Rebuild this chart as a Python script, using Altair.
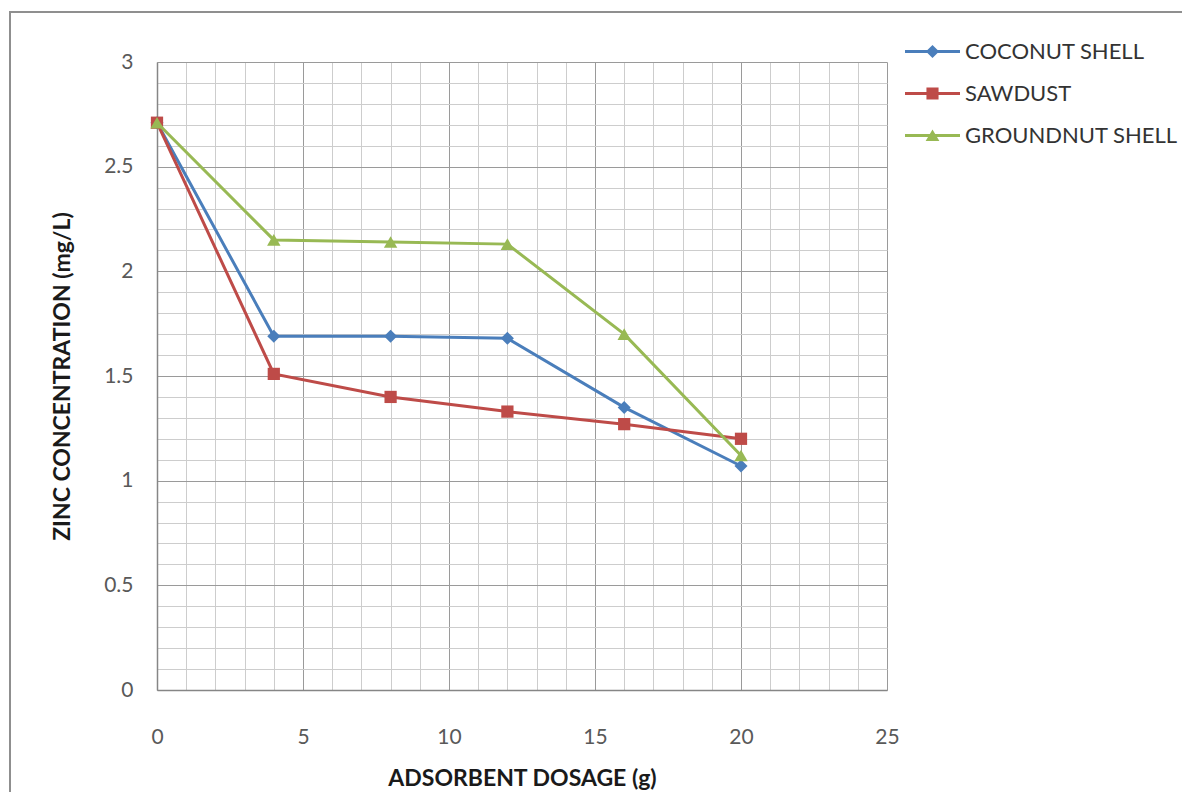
import altair as alt
import pandas as pd

# Adsorbent dosage (g) and residual zinc concentration (mg/L) for each adsorbent
dosage = [0, 4, 8, 12, 16, 20]
coconut_shell = [2.71, 1.69, 1.69, 1.68, 1.35, 1.07]
sawdust = [2.71, 1.51, 1.40, 1.33, 1.27, 1.20]
groundnut_shell = [2.71, 2.15, 2.14, 2.13, 1.70, 1.12]

series_names = ["COCONUT SHELL", "SAWDUST", "GROUNDNUT SHELL"]
series_values = [coconut_shell, sawdust, groundnut_shell]
series_colors = ["#4A7EBB", "#BE4B48", "#98B954"]
series_shapes = ["diamond", "square", "triangle-up"]
series_sizes = [170, 150, 180]

# legend glyphs: a short line with the series marker on it (unit box -1..1)
legend_glyphs = [
    "M-1,-0.055H1V0.055H-1Z M0,-0.24L0.24,0L0,0.24L-0.24,0Z",
    "M-1,-0.055H1V0.055H-1Z M-0.22,-0.22H0.22V0.22H-0.22Z",
    "M-1,-0.055H1V0.055H-1Z M0,-0.22L0.25,0.2H-0.25Z",
]

x_major = [0, 5, 10, 15, 20, 25]
x_minor = [v for v in range(0, 26) if v % 5 != 0]
y_major = [0, 0.5, 1, 1.5, 2, 2.5, 3]
y_minor = [round(i * 0.1, 1) for i in range(0, 31) if i % 5 != 0]

FONT = "Lato"
MAJOR_GRID = "#9a9a9a"
MINOR_GRID = "#cdcdcd"

rows = []
for name, vals in zip(series_names, series_values):
    for d, v in zip(dosage, vals):
        rows.append({"dosage": d, "conc": v, "series": name})
df = pd.DataFrame(rows)

x_scale = alt.Scale(domain=[0, 25], nice=False, zero=True)
y_scale = alt.Scale(domain=[0, 3], nice=False, zero=True)

minor_x_axis = alt.Axis(values=x_minor, grid=True, gridColor=MINOR_GRID, gridWidth=1,
                        labels=False, ticks=False, domain=False, title=None,
                        orient="bottom", zindex=0)
minor_y_axis = alt.Axis(values=y_minor, grid=True, gridColor=MINOR_GRID, gridWidth=1,
                        labels=False, ticks=False, domain=False, title=None,
                        orient="left", zindex=0)
main_x_axis = alt.Axis(values=x_major, grid=True, gridColor=MAJOR_GRID, gridWidth=1,
                       ticks=False, tickSize=0, domain=True, domainColor="#868686", domainWidth=1.5,
                       labelFont=FONT, labelFontSize=21, labelColor="#595959", labelPadding=36,
                       labelFlush=False,
                       title="ADSORBENT DOSAGE (g)", titleFont=FONT, titleFontSize=23,
                       titleFontWeight="bold", titleColor="#1a1a1a", titlePadding=20,
                       orient="bottom", zindex=0)
main_y_axis = alt.Axis(values=y_major, grid=True, gridColor=MAJOR_GRID, gridWidth=1, format="~g",
                       ticks=False, tickSize=0, domain=True, domainColor="#868686", domainWidth=1.5,
                       labelFont=FONT, labelFontSize=21, labelColor="#595959", labelPadding=24,
                       labelFlush=False,
                       title="ZINC CONCENTRATION (mg/L)", titleFont=FONT, titleFontSize=23,
                       titleFontWeight="bold", titleColor="#1a1a1a", titlePadding=29,
                       orient="left", zindex=0)

base = alt.Chart(df)

# outer chart-area frame
frame = alt.Chart(alt.Data(values=[{}])).mark_rect(
    fill="transparent", stroke="#8f8f8f", strokeWidth=2
).encode(
    x=alt.value(-147), x2=alt.value(1100), y=alt.value(-50), y2=alt.value(800)
)

layers = [frame]
for i, (name, color, shape, size) in enumerate(zip(series_names, series_colors, series_shapes, series_sizes)):
    sub = base.transform_filter(alt.datum.series == name)
    line = sub.mark_line(strokeWidth=3).encode(
        x=alt.X("dosage:Q", scale=x_scale, axis=minor_x_axis if i == 0 else None),
        y=alt.Y("conc:Q", scale=y_scale, axis=minor_y_axis if i == 0 else None),
        color=alt.value(color),
    )
    pts = sub.mark_point(filled=True, opacity=1, size=size, shape=shape).encode(
        x=alt.X("dosage:Q", scale=x_scale, axis=main_x_axis if i == 0 else None),
        y=alt.Y("conc:Q", scale=y_scale, axis=main_y_axis if i == 0 else None),
        color=alt.value(color),
    )
    layers += [line, pts]

legend = alt.Legend(title=None, orient="none", legendX=748, legendY=-38,
                    symbolSize=3025, symbolStrokeWidth=0, symbolOffset=0,
                    labelFont=FONT, labelFontSize=22, labelColor="#333333", labelLimit=400,
                    labelOffset=5, rowPadding=3, padding=0)

legend_layer = base.transform_filter("false").mark_point(filled=True, opacity=1).encode(
    x=alt.X("dosage:Q", scale=x_scale, axis=None),
    y=alt.Y("conc:Q", scale=y_scale, axis=None),
    color=alt.Color("series:N", scale=alt.Scale(domain=series_names, range=series_colors), legend=legend),
    shape=alt.Shape("series:N", scale=alt.Scale(domain=series_names, range=legend_glyphs), legend=legend),
)
layers.append(legend_layer)

chart = alt.layer(*layers).resolve_axis(x="independent", y="independent").properties(
    width=730, height=628,
    autosize=alt.AutoSizeParams(type="none"),
    padding={"left": 157, "top": 62, "right": 295, "bottom": 102},
    background="white",
).configure_view(strokeWidth=0)

chart.save("out.html", embed_options={"renderer": "svg", "actions": False})
